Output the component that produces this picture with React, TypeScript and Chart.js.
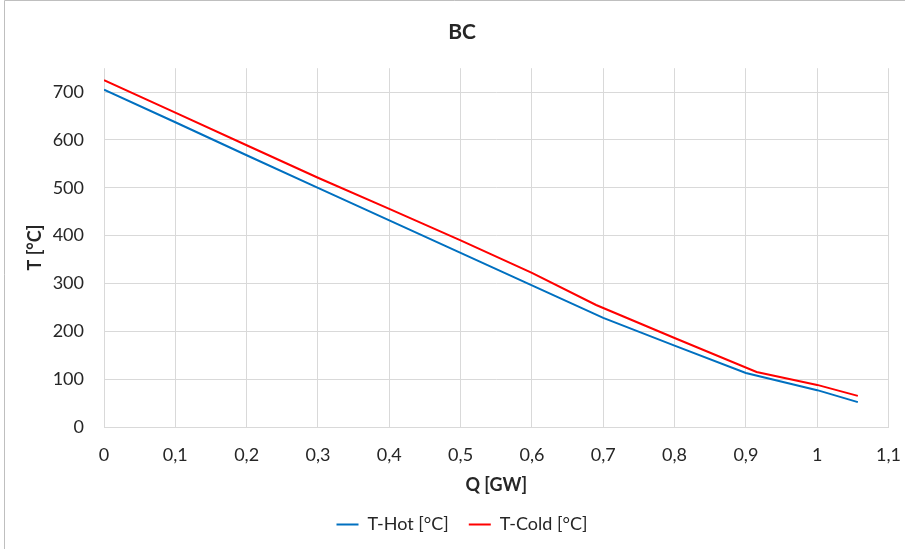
import React, { useEffect, useRef } from "react";
import { Chart, registerables } from "chart.js";

Chart.register(...registerables);

const chartTitle = "BC";
const xTitle = "Q [GW]";
const yTitle = "T [°C]";
const hotLabel = "T-Hot [°C]";
const coldLabel = "T-Cold [°C]";

const qHot = [0, 0.1, 0.2, 0.3, 0.4, 0.5, 0.6, 0.7, 0.8, 0.9, 1.0, 1.057];
const tHot = [705, 637, 568, 500, 432, 364, 296, 228, 170, 113, 77, 52];

const qCold = [0, 0.1, 0.2, 0.3, 0.4, 0.5, 0.6, 0.69, 0.8, 0.915, 1.0, 1.057];
const tCold = [725, 657, 589, 521, 456, 390, 322, 255, 186, 115, 88, 65];

const xMin = 0;
const xMax = 1.1;
const xStep = 0.1;
const yMin = 0;
const yMax = 750;
const yStep = 100;
const yLastLabel = 700;

const frame = {
  id: "frame",
  beforeDraw(chart: any) {
    const ctx = chart.ctx;
    ctx.save();
    ctx.fillStyle = "#ffffff";
    ctx.fillRect(0, 0, chart.width, chart.height);
    ctx.strokeStyle = "#bfbfbf";
    ctx.lineWidth = 1;
    ctx.beginPath();
    ctx.moveTo(4.5, chart.height);
    ctx.lineTo(4.5, 0.5);
    ctx.lineTo(chart.width, 0.5);
    ctx.stroke();
    ctx.restore();
  },
};

export default function App() {
  const ref = useRef<HTMLCanvasElement | null>(null);

  useEffect(() => {
    document.body.style.margin = "0";
    if (!ref.current) return;
    Chart.defaults.font.family = "Lato";
    const textColor = "#262626";
    const chart = new Chart(ref.current, {
      type: "line",
      data: {
        datasets: [
          {
            label: hotLabel,
            data: qHot.map((q, i) => ({ x: q, y: tHot[i] })),
            borderColor: "#0070C0",
            backgroundColor: "#0070C0",
            borderWidth: 2,
            pointRadius: 0,
            tension: 0,
          },
          {
            label: coldLabel,
            data: qCold.map((q, i) => ({ x: q, y: tCold[i] })),
            borderColor: "#FF0000",
            backgroundColor: "#FF0000",
            borderWidth: 2,
            pointRadius: 0,
            tension: 0,
          },
        ],
      },
      options: {
        responsive: false,
        animation: false,
        devicePixelRatio: 1,
        layout: { padding: { left: 20, right: 1, top: 0, bottom: 5.5 } },
        plugins: {
          title: {
            display: true,
            text: chartTitle,
            color: textColor,
            font: { size: 21, weight: "bold" },
            padding: { top: 19.5, bottom: 23.5 },
          },
          legend: {
            position: "bottom",
            labels: {
              color: textColor,
              font: { size: 18 },
              usePointStyle: true,
              pointStyle: "line",
              pointStyleWidth: 22,
              padding: 20,
            },
          },
          tooltip: { enabled: false },
        },
        scales: {
          x: {
            type: "linear",
            min: xMin,
            max: xMax,
            ticks: {
              stepSize: xStep,
              color: textColor,
              font: { size: 18 },
              padding: 4,
              callback: (v: any) => String(Math.round(Number(v) * 10) / 10).replace(".", ","),
            },
            grid: {
              color: "#d9d9d9",
              drawTicks: true,
              tickLength: 13,
              tickColor: "rgba(0,0,0,0)",
            },
            border: { display: true, color: "#d9d9d9" },
            title: {
              display: true,
              text: xTitle,
              color: textColor,
              font: { size: 18, weight: "bold" },
              padding: { top: 0, bottom: 0 },
            },
            afterFit: (s: any) => {
              s.height = 68.5;
            },
          },
          y: {
            type: "linear",
            min: yMin,
            max: yMax,
            ticks: {
              stepSize: yStep,
              color: textColor,
              font: { size: 18 },
              padding: 20,
            },
            afterBuildTicks: (s: any) => {
              s.ticks = s.ticks.filter((t: any) => t.value <= yLastLabel);
            },
            grid: { color: "#d9d9d9", drawTicks: false },
            border: { display: false },
            title: {
              display: true,
              text: yTitle,
              color: textColor,
              font: { size: 18, weight: "bold" },
              padding: { top: 4, bottom: 0 },
            },
            afterFit: (s: any) => {
              s.width = 84;
            },
          },
        },
      },
      plugins: [frame],
    });
    return () => chart.destroy();
  }, []);

  return (
    <div style={{ width: 905, height: 549 }}>
      <canvas ref={ref} width={905} height={549} />
    </div>
  );
}
